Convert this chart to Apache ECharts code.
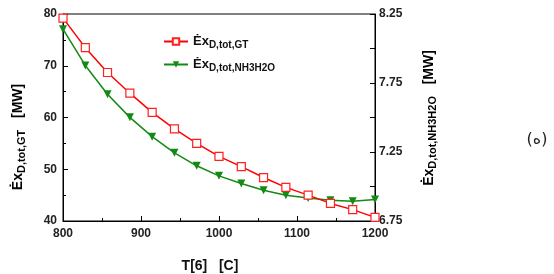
<!DOCTYPE html>
<html>
<head>
<meta charset="utf-8">
<script src="https://cdn.jsdelivr.net/npm/echarts@6/dist/echarts.min.js"></script>
<style>
  html, body { margin: 0; padding: 0; background: #fff; }
  #chart { width: 554px; height: 274px; }
</style>
</head>
<body>
<div id="chart"></div>
<script>
// T[6] in C, 15 points from 800 to 1200
var tempC = [800, 828.6, 857.1, 885.7, 914.3, 942.9, 971.4, 1000, 1028.6, 1057.1, 1085.7, 1114.3, 1142.9, 1171.4, 1200];
// Ex_D,tot,GT [MW] (left axis)
var exGT = [79.2, 73.5, 68.7, 64.7, 61.0, 57.8, 55.0, 52.5, 50.5, 48.4, 46.5, 45.0, 43.4, 42.2, 40.7];
// Ex_D,tot,NH3H2O [MW] (right axis)
var exNH3 = [8.14, 7.877, 7.669, 7.501, 7.361, 7.244, 7.150, 7.077, 7.022, 6.973, 6.937, 6.917, 6.900, 6.893, 6.906];

var rightLabels = [6.75, 7.25, 7.75, 8.25];

var FONT = 'Liberation Sans, Arial, sans-serif';

function pairs(xs, ys) {
    var out = [];
    for (var i = 0; i < xs.length; i++) out.push([xs[i], ys[i]]);
    return out;
}

var legendRich = {
    a: { fontFamily: FONT, fontWeight: 'bold', fontSize: 13, color: '#111' },
    b: { fontFamily: FONT, fontWeight: 'bold', fontSize: 10, color: '#111', padding: [7, 0, 0, 0] }
};
var nameRich = {
    a: { fontFamily: FONT, fontWeight: 'bold', fontSize: 14, color: '#111' },
    b: { fontFamily: FONT, fontWeight: 'bold', fontSize: 11, color: '#111', padding: [8, 0, 0, 0] }
};

var myChart = echarts.init(document.getElementById('chart'));

var axisCommon = {
    axisLine: { show: true, lineStyle: { color: '#000', width: 1 } },
    axisTick: { show: true, inside: true, length: 5, lineStyle: { color: '#000' } },
    minorTick: { show: true, splitNumber: 2, length: 3, lineStyle: { color: '#000' } },
    splitLine: { show: false },
    axisLabel: { fontFamily: FONT, fontWeight: 'bold', fontSize: 12, color: '#222' }
};

var option = {
    animation: false,
    grid: {
        left: 63, right: 179, top: 14, bottom: 53,
        outerBoundsMode: 'none', containLabel: false,
        show: true, borderColor: '#000', borderWidth: 1, backgroundColor: 'transparent'
    },
    legend: {
        orient: 'vertical',
        left: 158,
        top: 30,
        itemWidth: 24,
        itemHeight: 8,
        itemGap: 8,
        data: ['GT', 'NH3H2O'],
        formatter: function (name) {
            return '{a|Ėx}{b|D,tot,' + name + '}';
        },
        textStyle: { rich: legendRich }
    },
    xAxis: Object.assign({}, axisCommon, {
        type: 'value', min: 800, max: 1200, interval: 100,
        axisLabel: Object.assign({}, axisCommon.axisLabel, {
            margin: 7,
            formatter: function (v) { return String(v); }
        }),
        name: 'T[6]   [C]',
        nameLocation: 'middle',
        nameGap: 38,
        nameTextStyle: { fontFamily: FONT, fontWeight: 'bold', fontSize: 14, color: '#111', padding: [0, 18, 0, 0] }
    }),
    yAxis: [
        Object.assign({}, axisCommon, {
            type: 'value', min: 40, max: 80, interval: 10, position: 'left',
            axisLabel: Object.assign({}, axisCommon.axisLabel, { margin: 6 })
        }),
        Object.assign({}, axisCommon, {
            type: 'value', min: 6.75, max: 8.25, interval: 0.25, position: 'right',
            minorTick: { show: false },
            axisLabel: Object.assign({}, axisCommon.axisLabel, {
                margin: 4,
                formatter: function (v) {
                    for (var i = 0; i < rightLabels.length; i++) {
                        if (Math.abs(rightLabels[i] - v) < 1e-6) return rightLabels[i].toFixed(2);
                    }
                    return '';
                }
            })
        })
    ],
    graphic: [
        {
            type: 'text', x: 18, y: 137, rotation: Math.PI / 2,
            style: {
                text: '{a|Ėx}{b|D,tot,GT}{a|   [MW]}',
                rich: nameRich,
                align: 'center', verticalAlign: 'middle'
            }
        },
        {
            type: 'text', x: 429, y: 118, rotation: Math.PI / 2,
            style: {
                text: '{a|Ėx}{b|D,tot,NH3H2O}{a|   [MW]}',
                rich: nameRich,
                align: 'center', verticalAlign: 'middle'
            }
        },
        {
            type: 'text', x: 537, y: 140,
            style: {
                text: '(ه)', font: '16px "DejaVu Sans"', fill: '#222',
                align: 'center', verticalAlign: 'middle'
            }
        }
    ],
    series: [
        {
            name: 'GT', type: 'line', yAxisIndex: 0,
            data: pairs(tempC, exGT),
            symbol: 'rect', symbolSize: 8, showAllSymbol: true,
            lineStyle: { color: '#ff0000', width: 1.5 },
            itemStyle: { color: '#fff', borderColor: '#ff2020', borderWidth: 1.2 },
            z: 3
        },
        {
            name: 'NH3H2O', type: 'line', yAxisIndex: 1,
            data: pairs(tempC, exNH3),
            symbol: 'triangle', symbolRotate: 180, symbolSize: 8, showAllSymbol: true,
            lineStyle: { color: '#138a13', width: 1.5 },
            itemStyle: { color: '#138a13' },
            z: 2
        }
    ]
};

myChart.setOption(option);
</script>
</body>
</html>
